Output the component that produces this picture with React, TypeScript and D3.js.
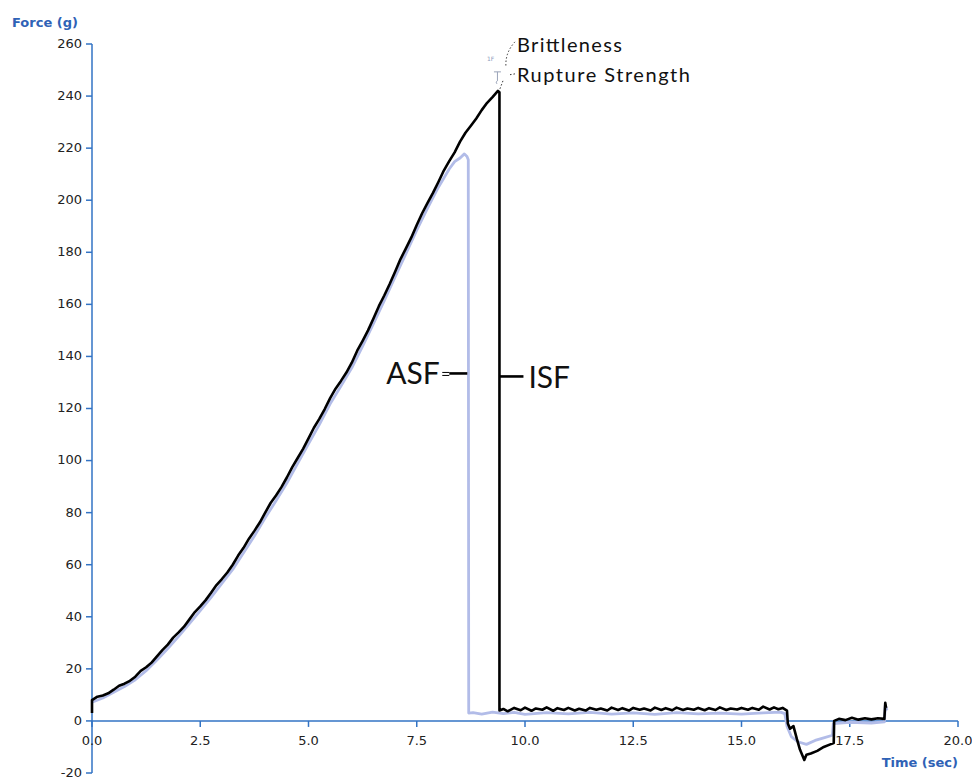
import React from "react";
import * as d3 from "d3";

// ---- Data ----
const xTicks = [0, 2.5, 5, 7.5, 10, 12.5, 15, 17.5, 20];
const yTicks = [-20, 0, 20, 40, 60, 80, 100, 120, 140, 160, 180, 200, 220, 240, 260];

// ISF curve (black)
const isfTime = [
  0, 0, 0.125, 0.25, 0.375, 0.5, 0.625, 0.75, 0.875, 1.0, 1.125, 1.25, 1.375, 1.5, 1.625, 1.75, 1.875,
  2.0, 2.125, 2.25, 2.375, 2.5, 2.625, 2.75, 2.875, 3.0, 3.125, 3.25, 3.375, 3.5, 3.625, 3.75, 3.875,
  4.0, 4.125, 4.25, 4.375, 4.5, 4.625, 4.75, 4.875, 5.0, 5.125, 5.25, 5.375, 5.5, 5.625, 5.75, 5.875,
  6.0, 6.125, 6.25, 6.375, 6.5, 6.625, 6.75, 6.875, 7.0, 7.125, 7.25, 7.375, 7.5, 7.625, 7.75, 7.875,
  8.0, 8.125, 8.25, 8.375, 8.5, 8.625, 8.75, 8.875, 9.0, 9.125, 9.25, 9.375, 9.41, 9.41,
  9.5, 9.6, 9.75, 9.9, 10.0, 10.15, 10.25, 10.4, 10.5, 10.65, 10.75, 10.9, 11.0, 11.15, 11.25, 11.4,
  11.5, 11.65, 11.75, 11.9, 12.0, 12.15, 12.25, 12.4, 12.5, 12.65, 12.75, 12.9, 13.0, 13.15, 13.25,
  13.4, 13.5, 13.65, 13.75, 13.9, 14.0, 14.15, 14.25, 14.4, 14.5, 14.65, 14.75, 14.9, 15.0, 15.15,
  15.25, 15.4, 15.5, 15.65, 15.75, 15.85, 15.95, 16.05,
  16.07, 16.12, 16.2, 16.28, 16.35, 16.45, 16.5, 16.6, 16.75, 16.9, 17.05, 17.13, 17.14,
  17.25, 17.4, 17.55, 17.7, 17.85, 18.0, 18.15, 18.3, 18.32, 18.34,
];
const isfForce = [
  3, 8, 9.3, 9.8, 10.6, 12.0, 13.5, 14.3, 15.4, 17.0, 19.2, 20.6, 22.4, 24.8, 27.2, 29.3, 32.0,
  34.0, 36.2, 39.0, 41.8, 44.0, 46.4, 49.2, 52.2, 54.5, 57.0, 60.0, 63.5, 66.5, 70.0, 73.0, 76.2,
  80.0, 83.7, 86.6, 89.8, 93.5, 97.5, 101.0, 104.5, 108.5, 112.6, 116.0, 119.8, 124.0, 127.6, 130.6, 133.8,
  137.6, 142.2, 146.0, 150.0, 154.6, 159.3, 163.4, 167.8, 172.5, 177.4, 181.5, 185.7, 190.5, 195.0, 199.0, 202.8,
  207.0, 211.4, 215.0, 218.4, 222.5, 225.9, 228.6, 231.4, 234.6, 237.4, 239.6, 242.0, 241.5, 4.0,
  4.6, 3.7, 5.0, 4.1, 5.1, 3.9, 4.8, 4.3, 5.2, 3.9, 4.9, 4.2, 5.0, 4.0, 4.7, 4.0,
  5.0, 4.3, 4.8, 4.0, 5.1, 4.2, 4.9, 4.0, 5.0, 4.3, 4.8, 4.0, 5.1, 4.2, 4.9,
  4.1, 5.1, 4.2, 4.8, 4.3, 5.0, 4.1, 4.9, 4.2, 5.2, 4.2, 4.8, 4.4, 5.0, 4.3,
  5.0, 4.3, 5.5, 4.4, 5.2, 4.5, 5.0, 4.0,
  -1, -3, -2, -7, -11, -15, -13, -12.5, -11.5, -10, -9, -8.5, 0,
  0.8, 0.3, 1.2, 0.5, 1.0, 0.6, 1.0, 0.8, 7, 5,
];

// ASF curve (light blue)
const asfTime = [
  0, 0.25, 0.5, 0.75, 1.0, 1.25, 1.5, 1.75, 2.0, 2.25, 2.5, 2.75, 3.0, 3.25, 3.5, 3.75,
  4.0, 4.25, 4.5, 4.75, 5.0, 5.25, 5.5, 5.75, 6.0, 6.25, 6.5, 6.75, 7.0, 7.25, 7.5, 7.75,
  8.0, 8.25, 8.375, 8.5, 8.6, 8.66, 8.69, 8.7,
  8.8, 9.0, 9.25, 9.5, 9.75, 10.0, 10.5, 11.0, 11.5, 12.0, 12.5, 13.0, 13.5, 14.0, 14.5, 15.0,
  15.5, 15.9, 16.0, 16.05, 16.15, 16.3, 16.5, 16.7, 16.9, 17.1, 17.12, 17.5, 18.0, 18.3, 18.32, 18.36,
];
const asfForce = [
  7.2, 8.8, 11.0, 13.2, 15.8, 19.3, 23.4, 27.8, 32.5, 37.4, 42.4, 47.5, 52.8, 58.2, 64.6, 71.0,
  78.0, 84.6, 91.4, 98.9, 106.4, 113.8, 121.8, 128.6, 135.6, 144.0, 152.6, 161.4, 170.5, 179.5, 188.5, 197.0,
  205.0, 212.0, 214.8, 216.2, 217.8, 216.8, 215.5, 3,
  3.2, 2.6, 3.4, 2.8, 3.3, 2.5, 3.2, 2.7, 3.3, 2.6, 3.1, 2.5, 3.2, 2.7, 3.0, 2.6,
  3.1, 3.4, 2.8, -2, -6, -8, -9, -7.5, -6.5, -5.5, -1, -0.5, -0.8, -0.4, 6, 4,
];

const ruptureTime = 9.375;
const ruptureForce = 242;

const AXIS = "#3273c4";
const TITLE = "#2f62b6";

export default function App() {
  const x = d3.scaleLinear().domain([0, 20]).range([92, 958]);
  const y = d3.scaleLinear().domain([-20, 260]).range([773, 44]);

  const line = d3
    .line<[number, number]>()
    .x((d) => x(d[0]))
    .y((d) => y(d[1]));

  const isf: [number, number][] = isfTime.map((t, i) => [t, isfForce[i]]);
  const asf: [number, number][] = asfTime.map((t, i) => [t, asfForce[i]]);

  const px = x(ruptureTime);
  const py = y(ruptureForce);
  const asfDropX = x(8.69);
  const isfDropX = x(9.41);
  const labelY = y(135);

  return (
    <div style={{ position: "absolute", left: 0, top: 0 }}>
      <svg width={972} height={780} style={{ display: "block", background: "#fff" }}>
        {/* axes */}
        <line x1={x(0)} x2={x(0)} y1={y(260)} y2={y(-20)} stroke={AXIS} strokeWidth={1.5} />
        <line x1={x(0)} x2={x(20)} y1={y(0)} y2={y(0)} stroke={AXIS} strokeWidth={1.5} />
        {yTicks.map((t) => (
          <g key={"y" + t}>
            <line x1={x(0) - 6} x2={x(0)} y1={y(t)} y2={y(t)} stroke={AXIS} strokeWidth={1.5} />
            <text
              x={x(0) - 10}
              y={y(t)}
              dy="0.3em"
              textAnchor="end"
              fontFamily="DejaVu Sans"
              fontSize={13}
              fill="#222"
            >
              {t}
            </text>
          </g>
        ))}
        {xTicks.map((t) => (
          <g key={"x" + t}>
            <line x1={x(t)} x2={x(t)} y1={y(0)} y2={y(0) + 6} stroke={AXIS} strokeWidth={1.5} />
            <text
              x={x(t)}
              y={y(0) + 20}
              dy="0.35em"
              textAnchor="middle"
              fontFamily="DejaVu Sans"
              fontSize={13}
              fill="#222"
            >
              {t.toFixed(1)}
            </text>
          </g>
        ))}
        <text x={12} y={27} fontFamily="DejaVu Sans" fontWeight="bold" fontSize={13} fill={TITLE}>
          Force (g)
        </text>
        <text
          x={x(20)}
          y={767}
          textAnchor="end"
          fontFamily="DejaVu Sans"
          fontWeight="bold"
          fontSize={13}
          fill={TITLE}
        >
          Time (sec)
        </text>

        {/* curves */}
        <path d={line(asf) || ""} fill="none" stroke="#b2bce8" strokeWidth={2.8} strokeLinejoin="round" />
        <path d={line(isf) || ""} fill="none" stroke="#000" strokeWidth={2.6} strokeLinejoin="round" />

        {/* annotations near rupture point */}
        <text x={px - 11} y={py - 30} fontFamily="DejaVu Sans" fontSize={6} fill="#8d9bbd">
          1F
        </text>
        <path
          d={`M${px - 4},${py - 19} L${px + 3},${py - 19} M${px - 0.5},${py - 19} L${px - 0.5},${py - 10} Q${px - 3},${py - 9} ${px - 1},${py - 7}`}
          stroke="#9aa3b8"
          strokeWidth={1}
          fill="none"
        />
        <path
          d={`M${px + 17},${py - 49} Q${px + 7},${py - 38} ${px + 8},${py - 24}`}
          stroke="#333"
          strokeWidth={1}
          strokeDasharray="1.5,2"
          fill="none"
        />
        <path
          d={`M${px + 17},${py - 17} L${px + 11},${py - 16} M${px + 5},${py - 10} L${px + 2},${py - 2}`}
          stroke="#333"
          strokeWidth={1}
          strokeDasharray="1.5,2"
          fill="none"
        />
        <text x={px + 19} y={py - 39} fontFamily="Lato" fontSize={20} fill="#111" textLength={105} lengthAdjust="spacing">
          Brittleness
        </text>
        <text x={px + 19} y={py - 9} fontFamily="Lato" fontSize={20} fill="#111" textLength={173} lengthAdjust="spacing">
          Rupture Strength
        </text>

        {/* ASF / ISF labels */}
        <line x1={asfDropX - 19} x2={asfDropX - 1} y1={labelY + 4} y2={labelY + 4} stroke="#000" strokeWidth={2.6} />
        <line x1={asfDropX - 26} x2={asfDropX - 19} y1={labelY + 3} y2={labelY + 3} stroke="#000" strokeWidth={1} />
        <line x1={asfDropX - 26} x2={asfDropX - 19} y1={labelY + 6} y2={labelY + 6} stroke="#000" strokeWidth={1} />
        <text x={asfDropX - 82} y={labelY + 15} fontFamily="Lato" fontSize={30} fill="#111">
          ASF
        </text>
        <line x1={isfDropX} x2={isfDropX + 24} y1={labelY + 7} y2={labelY + 7} stroke="#000" strokeWidth={2.6} />
        <text x={isfDropX + 29} y={labelY + 19} fontFamily="Lato" fontSize={30} fill="#111">
          ISF
        </text>
      </svg>
    </div>
  );
}
